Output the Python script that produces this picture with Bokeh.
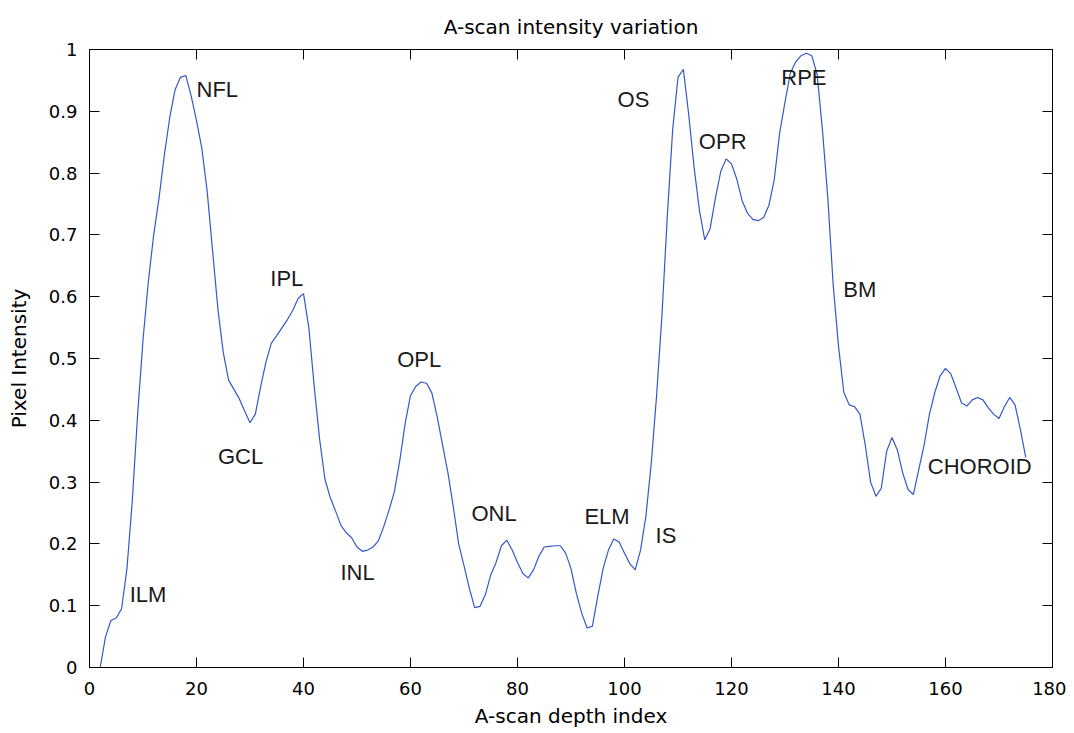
from bokeh.plotting import figure
from bokeh.models import ColumnDataSource, LinearAxis, FixedTicker, Range1d
from bokeh.core.properties import value
from bokeh.embed import file_html
from bokeh.resources import INLINE

# ---------------- data ----------------
depth_index = list(range(2, 176))
intensity = [
    0.0, 0.05, 0.076, 0.08, 0.095, 0.16, 0.27, 0.41, 0.53, 0.625,          # 2-11
    0.70, 0.76, 0.83, 0.89, 0.935, 0.955, 0.958, 0.925, 0.885, 0.84,       # 12-21
    0.77, 0.675, 0.58, 0.51, 0.465, 0.45, 0.435, 0.415, 0.396, 0.41,       # 22-31
    0.455, 0.495, 0.525, 0.537, 0.55, 0.563, 0.578, 0.597, 0.605, 0.55,    # 32-41
    0.455, 0.37, 0.305, 0.275, 0.253, 0.23, 0.218, 0.21, 0.195, 0.188,     # 42-51
    0.19, 0.195, 0.205, 0.228, 0.255, 0.285, 0.335, 0.395, 0.44, 0.455,    # 52-61
    0.462, 0.46, 0.444, 0.405, 0.36, 0.315, 0.26, 0.2, 0.165, 0.128,       # 62-71
    0.097, 0.099, 0.118, 0.15, 0.17, 0.197, 0.206, 0.19, 0.17, 0.152,      # 72-81
    0.145, 0.158, 0.18, 0.195, 0.196, 0.197, 0.197, 0.185, 0.16, 0.12,     # 82-91
    0.088, 0.064, 0.067, 0.115, 0.16, 0.19, 0.208, 0.203, 0.185, 0.168,    # 92-101
    0.158, 0.19, 0.245, 0.33, 0.44, 0.57, 0.73, 0.87, 0.955, 0.968,        # 102-111
    0.895, 0.81, 0.74, 0.692, 0.71, 0.76, 0.803, 0.823, 0.815, 0.79,       # 112-121
    0.755, 0.735, 0.725, 0.723, 0.728, 0.748, 0.79, 0.865, 0.915, 0.962,   # 122-131
    0.98, 0.99, 0.994, 0.99, 0.96, 0.87, 0.76, 0.62, 0.52, 0.445,          # 132-141
    0.425, 0.422, 0.41, 0.36, 0.30, 0.277, 0.29, 0.35, 0.372, 0.352,       # 142-151
    0.315, 0.288, 0.28, 0.32, 0.36, 0.41, 0.445, 0.472, 0.484, 0.475,      # 152-161
    0.452, 0.428, 0.423, 0.433, 0.437, 0.433, 0.42, 0.41, 0.403, 0.422,    # 162-171
    0.437, 0.425, 0.385, 0.34,                                             # 172-175
]

layer_names = ["ILM", "NFL", "GCL", "IPL", "INL", "OPL", "ONL", "ELM",
               "IS", "OS", "OPR", "RPE", "BM", "CHOROID"]
layer_x = [7.5, 20.0, 24.0, 33.8, 46.9, 57.5, 71.4, 92.5,
           105.8, 98.7, 113.9, 129.3, 140.9, 156.7]
layer_y = [0.118, 0.935, 0.342, 0.630, 0.154, 0.499, 0.249, 0.244,
           0.213, 0.919, 0.851, 0.955, 0.611, 0.3255]

x_ticks = [0, 20, 40, 60, 80, 100, 120, 140, 160, 180]
y_ticks = [0, 0.1, 0.2, 0.3, 0.4, 0.5, 0.6, 0.7, 0.8, 0.9, 1]
y_tick_labels = ["0", "0.1", "0.2", "0.3", "0.4", "0.5", "0.6", "0.7", "0.8", "0.9", "1"]

# ---------------- figure ----------------
TICK_FONT = "DejaVu Sans"
LABEL_FONT = "DejaVu Sans"

p = figure(width=1066, height=730, output_backend="svg", toolbar_location=None,
           x_range=Range1d(0, 180), y_range=Range1d(0, 1),
           title="A-scan intensity variation",
           min_border_left=89, min_border_right=14, min_border_top=49, min_border_bottom=62)

p.background_fill_color = "white"
p.border_fill_color = "white"
p.outline_line_color = "black"
p.outline_line_width = 1
p.grid.visible = False

p.title.text_font = TICK_FONT
p.title.text_font_size = "20px"
p.title.text_font_style = "normal"
p.title.text_color = "black"
p.title.align = "center"
p.title.standoff = 22

line_src = ColumnDataSource(dict(x=depth_index, y=intensity))
p.line("x", "y", source=line_src, line_color="#3558c8", line_width=1.2)

lab_src = ColumnDataSource(dict(x=layer_x, y=layer_y, t=layer_names))
p.text("x", "y", text="t", source=lab_src, text_font=value("Liberation Sans"),
       text_font_size="22px", text_color="#1a1a1a", text_baseline="middle", text_align="left")

# main axes
xa = p.xaxis[0]
xa.ticker = FixedTicker(ticks=x_ticks)
xa.axis_label = "A-scan depth index"
ya = p.yaxis[0]
ya.ticker = FixedTicker(ticks=y_ticks)
ya.major_label_overrides = {t: s for t, s in zip(y_ticks, y_tick_labels)}
ya.axis_label = "Pixel Intensity"

for ax in (xa, ya):
    ax.major_tick_in = 10
    ax.major_tick_out = 0
    ax.minor_tick_line_color = None
    ax.axis_line_color = "black"
    ax.major_tick_line_color = "black"
    ax.major_label_text_font = TICK_FONT
    ax.major_label_text_font_size = "18px"
    ax.major_label_text_color = "black"
    ax.axis_label_text_font = LABEL_FONT
    ax.axis_label_text_font_size = "20px"
    ax.axis_label_text_font_style = "normal"
    ax.axis_label_text_color = "black"

xa.major_label_standoff = 14
xa.axis_label_standoff = 6
ya.major_label_standoff = 12
ya.axis_label_standoff = 15

# mirrored tick marks on top and right (box style)
top = LinearAxis(ticker=FixedTicker(ticks=x_ticks))
p.add_layout(top, "above")
right = LinearAxis(ticker=FixedTicker(ticks=y_ticks))
p.add_layout(right, "right")
for ax, ticks in ((top, x_ticks), (right, y_ticks)):
    ax.major_tick_in = 10
    ax.major_tick_out = 0
    ax.minor_tick_line_color = None
    ax.axis_line_color = "black"
    ax.major_tick_line_color = "black"
    ax.major_label_overrides = {t: "" for t in ticks}
    ax.major_label_standoff = 0
    ax.major_label_text_font_size = "2px"

open("out.html", "w").write(file_html(p, INLINE))
